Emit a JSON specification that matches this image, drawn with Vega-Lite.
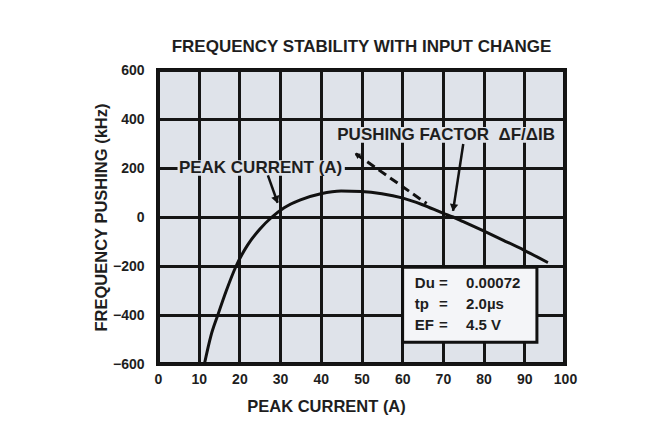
{
  "$schema": "https://vega.github.io/schema/vega-lite/v6.json",
  "width": 407,
  "height": 294,
  "autosize": {"type": "none"},
  "padding": {"left": 158, "top": 70, "right": 101, "bottom": 73},
  "background": "white",
  "title": {
    "text": "FREQUENCY STABILITY WITH INPUT CHANGE",
    "font": "Liberation Sans",
    "fontSize": 17,
    "fontWeight": "bold",
    "color": "#1e1e1e",
    "frame": "group",
    "anchor": "middle",
    "offset": 7
  },
  "config": {
    "view": {"fill": "#dfe3ea", "stroke": "#111111", "strokeWidth": 4},
    "axis": {
      "grid": true,
      "gridColor": "#151515",
      "gridWidth": 3,
      "gridOpacity": 1,
      "ticks": false,
      "domain": false,
      "labelFont": "Liberation Sans",
      "labelFontSize": 14,
      "labelFontWeight": "bold",
      "labelColor": "#1e1e1e",
      "labelFlush": false,
      "labelOverlap": false,
      "titleFont": "Liberation Sans",
      "titleFontSize": 16.5,
      "titleFontWeight": "bold",
      "titleColor": "#1e1e1e"
    }
  },
  "datasets": {
    "curve": [
      {"x": 11.4, "y": -600}, {"x": 13, "y": -485}, {"x": 14.7, "y": -400},
      {"x": 16.8, "y": -300}, {"x": 19.2, "y": -200}, {"x": 22, "y": -115},
      {"x": 25, "y": -50}, {"x": 28, "y": 0}, {"x": 31, "y": 38},
      {"x": 35, "y": 70}, {"x": 40, "y": 95}, {"x": 45, "y": 106},
      {"x": 50, "y": 104}, {"x": 55, "y": 95}, {"x": 60, "y": 78},
      {"x": 65, "y": 50}, {"x": 70, "y": 16}, {"x": 72.5, "y": 0},
      {"x": 75, "y": -19}, {"x": 80, "y": -57}, {"x": 85, "y": -96},
      {"x": 90, "y": -136}, {"x": 95.8, "y": -186}
    ],
    "solidArrows": [
      {"x": 27, "y": 170, "x2": 29.4, "y2": 58},
      {"x": 75, "y": 298, "x2": 72.5, "y2": 25}
    ],
    "dashed": [
      {"x": 48.6, "y": 258, "x2": 66, "y2": 55}
    ],
    "masks": [
      {"x": 4.8, "x2": 45.9, "y": 168, "y2": 232},
      {"x": 41.6, "x2": 99.3, "y": 303, "y2": 367}
    ],
    "notes": [
      {"x": 25.2, "y": 200, "t": "PEAK CURRENT (A)"},
      {"x": 70.8, "y": 335, "t": "PUSHING FACTOR\u00a0\u00a0ΔF/ΔIB"}
    ],
    "box": [
      {"x": 60.1, "x2": 93.1, "y": -205, "y2": -511}
    ],
    "names": [
      {"x": 63.1, "y": -269, "t": "Du"},
      {"x": 63.1, "y": -355, "t": "tp"},
      {"x": 63.1, "y": -440, "t": "EF"}
    ],
    "eqs": [
      {"x": 70.1, "y": -269, "t": "="},
      {"x": 70.1, "y": -355, "t": "="},
      {"x": 70.1, "y": -440, "t": "="}
    ],
    "vals": [
      {"x": 75.7, "y": -269, "t": "0.00072"},
      {"x": 75.7, "y": -355, "t": "2.0µs"},
      {"x": 75.7, "y": -440, "t": "4.5 V"}
    ]
  },
  "encoding": {
    "x": {
      "field": "x",
      "type": "quantitative",
      "scale": {"domain": [0, 100], "nice": false},
      "axis": {
        "values": [0, 10, 20, 30, 40, 50, 60, 70, 80, 90, 100],
        "labelPadding": 8,
        "title": "PEAK CURRENT (A)",
        "titlePadding": 12,
        "titleX": 168,
        "titleAlign": "center"
      }
    },
    "y": {
      "field": "y",
      "type": "quantitative",
      "scale": {"domain": [-600, 600], "nice": false},
      "axis": {
        "values": [-600, -400, -200, 0, 200, 400, 600],
        "labelPadding": 14,
        "title": "FREQUENCY PUSHING (kHz)",
        "titlePadding": 3
      }
    }
  },
  "layer": [
    {
      "data": {"name": "masks"},
      "mark": {"type": "rect", "fill": "#dfe3ea"},
      "encoding": {"x2": {"field": "x2"}, "y2": {"field": "y2"}}
    },
    {
      "data": {"name": "curve"},
      "mark": {"type": "line", "interpolate": "monotone", "color": "#111111", "strokeWidth": 3}
    },
    {
      "data": {"name": "solidArrows"},
      "mark": {"type": "rule", "color": "#111111", "strokeWidth": 2.5},
      "encoding": {"x2": {"field": "x2"}, "y2": {"field": "y2"}}
    },
    {
      "data": {"name": "dashed"},
      "mark": {"type": "rule", "color": "#111111", "strokeWidth": 3, "strokeDash": [9, 5]},
      "encoding": {"x2": {"field": "x2"}, "y2": {"field": "y2"}}
    },
    {
      "data": {"values": [{"x": 29.1, "y": 70}]},
      "mark": {"type": "point", "shape": "triangle-down", "filled": true, "color": "#111111", "size": 70, "opacity": 1, "angle": 341}
    },
    {
      "data": {"values": [{"x": 72.6, "y": 38}]},
      "mark": {"type": "point", "shape": "triangle-down", "filled": true, "color": "#111111", "size": 70, "opacity": 1, "angle": 9}
    },
    {
      "data": {"values": [{"x": 48.9, "y": 254}]},
      "mark": {"type": "point", "shape": "triangle-up", "filled": true, "color": "#111111", "size": 40, "opacity": 1, "angle": 305}
    },
    {
      "data": {"name": "notes"},
      "mark": {"type": "text", "font": "Liberation Sans", "fontSize": 17, "fontWeight": "bold", "color": "#1e1e1e", "align": "center", "baseline": "middle"},
      "encoding": {"text": {"field": "t"}}
    },
    {
      "data": {"name": "box"},
      "mark": {"type": "rect", "fill": "#f4f5f8", "stroke": "#111111", "strokeWidth": 3},
      "encoding": {"x2": {"field": "x2"}, "y2": {"field": "y2"}}
    },
    {
      "data": {"name": "names"},
      "mark": {"type": "text", "font": "Liberation Sans", "fontSize": 15, "fontWeight": "bold", "color": "#1e1e1e", "align": "left", "baseline": "middle"},
      "encoding": {"text": {"field": "t"}}
    },
    {
      "data": {"name": "eqs"},
      "mark": {"type": "text", "font": "Liberation Sans", "fontSize": 15, "fontWeight": "bold", "color": "#1e1e1e", "align": "center", "baseline": "middle"},
      "encoding": {"text": {"field": "t"}}
    },
    {
      "data": {"name": "vals"},
      "mark": {"type": "text", "font": "Liberation Sans", "fontSize": 15, "fontWeight": "bold", "color": "#1e1e1e", "align": "left", "baseline": "middle"},
      "encoding": {"text": {"field": "t"}}
    }
  ]
}
